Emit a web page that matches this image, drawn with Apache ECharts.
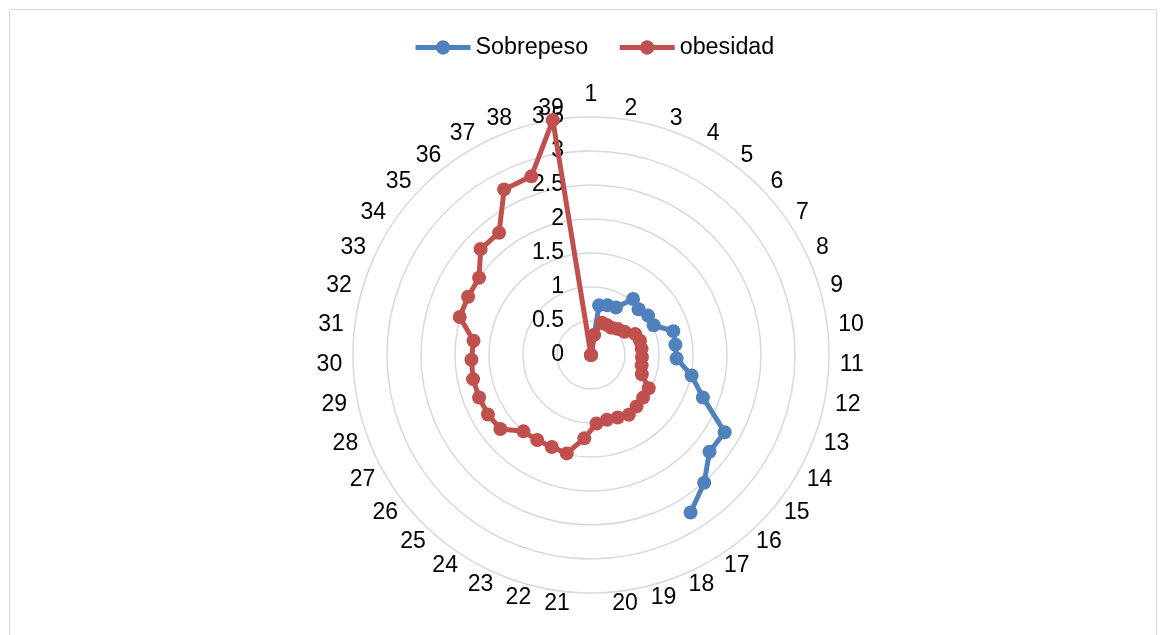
<!DOCTYPE html>
<html><head><meta charset="utf-8">
<script src="https://cdn.jsdelivr.net/npm/echarts@6/dist/echarts.min.js"></script>
<style>html,body{margin:0;padding:0;background:#fff}#c{width:1164px;height:635px}</style>
</head><body><div id="c"></div>
<script>
const categories = ['1','2','3','4','5','6','7','8','9','10','11','12','13','14','15','16','17','18','19','20',
  '21','22','23','24','25','26','27','28','29','30','31','32','33','34','35','36','37','38','39'];
const seriesNames = ['Sobrepeso', 'obesidad'];
const sobrepeso = [0, 0.74, 0.77, 0.79, 1.03, 0.97, 1.02, 1.02, 1.26, 1.25, 1.26, 1.51, 1.76, 2.27, 2.25, 2.51, 2.74,
  null, null, null, null, null, null, null, null, null, null, null, null, null, null, null, null, null, null, null, null, null, null];
const obesidad = [0, 0.3, 0.5, 0.5, 0.5, 0.55, 0.6, 0.72, 0.75, 0.75, 0.75, 0.76, 0.8, 0.98, 0.99, 1.01, 1.04, 1.0, 0.98, 1.01,
  1.23, 1.49, 1.47, 1.48, 1.5, 1.72, 1.75, 1.76, 1.77, 1.76, 1.74, 2.01, 2.0, 2.0, 2.25, 2.25, 2.75, 2.77, 3.5];
const radiusMin = 0, radiusMax = 3.5, radiusStep = 0.5;

function toPairs(vals, close) {
  const out = [];
  vals.forEach((v, i) => { if (v !== null) out.push([i, v]); });
  if (close && vals[0] !== null) out.push([0, vals[0]]);
  return out;
}

// small per-label nudges imitating the original label placement
const labelNudge = {
  '1': {padding: [0, 0, 11, 0]},
  '19': {padding: [0, 0, 0, 26]},
  '20': {padding: [0, 0, 0, 28]},
  '21': {padding: [0, 28, 0, 0]},
  '22': {padding: [0, 26, 0, 0]}
};
const angleData = categories.map(c => labelNudge[c] ? {value: c, textStyle: labelNudge[c]} : c);
// categories sit at band centres; rotate so the first one is at the top
const startAngle = 90 + 180 / categories.length;

const FONT = 'Liberation Sans, Arial, sans-serif';
const CENTER = [591, 355], RADIUS = 238;
const chart = echarts.init(document.getElementById('c'), null, {renderer: 'canvas'});
chart.setOption({
  animation: false,
  backgroundColor: '#fff',
  graphic: [{
    type: 'rect', silent: true,
    shape: {x: 9.5, y: 9.5, width: 1147, height: 700},
    style: {fill: 'none', stroke: '#d9d9d9', lineWidth: 1}
  }],
  legend: {
    top: 31, left: 408,
    itemWidth: 55, itemHeight: 18, itemGap: 29,
    lineStyle: {width: 5},
    textStyle: {fontFamily: FONT, fontSize: 23.3, color: '#000'},
    data: seriesNames
  },
  polar: [
    {center: CENTER, radius: RADIUS},
    {center: CENTER, radius: RADIUS}
  ],
  angleAxis: [
    {
      polarIndex: 0,
      type: 'category', data: angleData, startAngle: startAngle, clockwise: true, boundaryGap: true,
      axisLine: {show: false}, axisTick: {show: false}, splitLine: {show: false},
      axisLabel: {interval: 0, margin: 11, lineHeight: 1, fontFamily: FONT, fontSize: 23, color: '#000'}
    },
    {
      polarIndex: 1,
      type: 'value', min: 0, max: 360, startAngle: 90,
      axisLine: {show: false}, axisTick: {show: false}, splitLine: {show: false}, axisLabel: {show: false}
    }
  ],
  radiusAxis: [
    {
      polarIndex: 0,
      type: 'value', min: radiusMin, max: radiusMax, interval: radiusStep,
      axisLine: {show: false}, axisTick: {show: false}, axisLabel: {show: false},
      splitLine: {show: true, lineStyle: {color: '#d9d9d9', width: 1.5}}
    },
    {
      polarIndex: 1,
      type: 'value', min: radiusMin, max: radiusMax, interval: radiusStep,
      axisLine: {show: false}, axisTick: {show: false}, splitLine: {show: false},
      axisLabel: {margin: 27, fontFamily: FONT, fontSize: 23, color: '#000'}
    }
  ],
  series: [
    {
      name: seriesNames[0], type: 'line', coordinateSystem: 'polar', polarIndex: 0,
      encode: {angle: 0, radius: 1},
      data: toPairs(sobrepeso, false),
      symbol: 'circle', symbolSize: 14,
      lineStyle: {color: '#4f81bd', width: 5},
      itemStyle: {color: '#4f81bd'}, z: 2
    },
    {
      name: seriesNames[1], type: 'line', coordinateSystem: 'polar', polarIndex: 0,
      encode: {angle: 0, radius: 1},
      data: toPairs(obesidad, true),
      symbol: 'circle', symbolSize: 14,
      lineStyle: {color: '#c0504d', width: 5},
      itemStyle: {color: '#c0504d'}, z: 3
    }
  ]
});
</script></body></html>
